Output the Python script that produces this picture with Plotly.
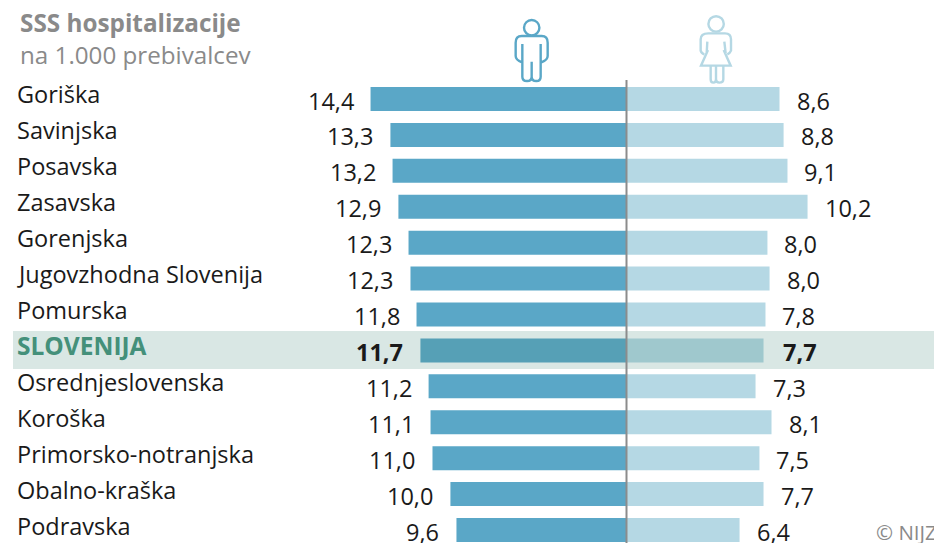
import plotly.graph_objects as go

regions = ["Goriška", "Savinjska", "Posavska", "Zasavska", "Gorenjska", "Jugovzhodna Slovenija",
           "Pomurska", "SLOVENIJA", "Osrednjeslovenska", "Koroška", "Primorsko-notranjska",
           "Obalno-kraška", "Podravska"]
men_labels = ["14,4", "13,3", "13,2", "12,9", "12,3", "12,3", "11,8", "11,7", "11,2", "11,1", "11,0", "10,0", "9,6"]
women_labels = ["8,6", "8,8", "9,1", "10,2", "8,0", "8,0", "7,8", "7,7", "7,3", "8,1", "7,5", "7,7", "6,4"]
# bar lengths (slightly finer than the printed labels)
men = [14.42, 13.30, 13.18, 12.85, 12.28, 12.17, 11.83, 11.61, 11.15, 11.04, 10.93, 9.92, 9.58]
women = [8.62, 8.85, 9.07, 10.20, 7.94, 8.06, 7.83, 7.72, 7.27, 8.17, 7.49, 7.72, 6.37]

PAGE_W, PAGE_H, BODY = 942, 543, 8
W, H = PAGE_W - BODY, PAGE_H - BODY
ZERO_PX, PX_PER_UNIT = 626.5, 17.75
ROW0_PX, ROW_PX = 99.0, 35.92
HL = regions.index("SLOVENIJA")
FONT = "Open Sans"
MEN_C, WOMEN_C = "#5AA7C7", "#B5D8E4"
MEN_HL, WOMEN_HL = "#56A0B6", "#9FC8CD"
rows = list(range(len(regions)))


def px(x):
    return (x - BODY) / W


def py(y):
    return 1 - (y - BODY) / H


fig = go.Figure()
fig.add_bar(y=rows, x=[-v for v in men], orientation="h", width=24 / ROW_PX, hoverinfo="skip",
            marker=dict(color=[MEN_HL if i == HL else MEN_C for i in rows], line_width=0))
fig.add_bar(y=rows, x=women, orientation="h", width=24 / ROW_PX, hoverinfo="skip",
            marker=dict(color=[WOMEN_HL if i == HL else WOMEN_C for i in rows], line_width=0))

ann = []
for i in rows:
    hl = i == HL
    ann.append(dict(x=px(17), xref="paper", y=i, yref="y", yshift=5.5 - 0.08 * i,
                    text=f"<b>{regions[i]}</b>" if hl else regions[i],
                    xanchor="left", yanchor="middle", showarrow=False, xshift=-2,
                    font=dict(family=FONT, size=24.5 if hl else 23.5, color="#44907A" if hl else "#1a1a1a")))
    ann.append(dict(x=-men[i], y=i, xshift=-15, yshift=-1.5, text=f"<b>{men_labels[i]}</b>" if hl else men_labels[i],
                    xanchor="right", yanchor="middle", showarrow=False,
                    font=dict(family=FONT, size=23.5, color="#1a1a1a")))
    ann.append(dict(x=women[i], y=i, xshift=17 if hl else 15, yshift=-1.5,
                    text=f"<b>{women_labels[i]}</b>" if hl else women_labels[i],
                    xanchor="left", yanchor="middle", showarrow=False,
                    font=dict(family=FONT, size=23.5, color="#1a1a1a")))
ann.append(dict(x=px(18), xref="paper", y=py(22.5), yref="paper", text="<b>SSS hospitalizacije</b>", xanchor="left",
                yanchor="middle", showarrow=False, font=dict(family=FONT, size=24.3, color="#8a8a8a")))
ann.append(dict(x=px(18), xref="paper", y=py(54), yref="paper", text="na 1.000 prebivalcev", xanchor="left",
                yanchor="middle", showarrow=False, font=dict(family=FONT, size=24.2, color="#8a8a8a")))
ann.append(dict(x=px(939), xref="paper", y=py(532), yref="paper", text="© NIJZ", xanchor="right",
                yanchor="middle", showarrow=False, font=dict(family=FONT, size=20.5, color="#8a8a8a")))


def icon(segments, ox, oy):
    """Path given in 3x crop coordinates -> paper fractions."""
    out = []
    for seg in segments:
        cmd, pts = seg[0], seg[1:]
        coords = " ".join(f"{px(ox + a / 3):.5f},{py(oy + b / 3):.5f}" for a, b in pts)
        out.append(f"{cmd} {coords}")
    return " ".join(out)


man = [("M", (125, 108)), ("L", (185, 108)), ("Q", (203, 108), (203, 128)), ("L", (203, 168)), ("Q", (203, 180), (184, 187)),
       ("M", (125, 108)), ("Q", (107, 108), (107, 128)), ("L", (107, 168)), ("Q", (107, 180), (126, 187)),
       ("M", (127, 132)), ("L", (127, 230)), ("Q", (127, 243), (141, 243)), ("Q", (155, 243), (155, 230)), ("L", (155, 185)),
       ("M", (155, 230)), ("Q", (155, 243), (169, 243)), ("Q", (182, 243), (182, 230)), ("L", (182, 132))]
woman = [("M", (685, 100)), ("L", (735, 100)), ("Q", (753, 100), (753, 118)), ("L", (753, 152)), ("Q", (750, 160), (742, 163)),
         ("M", (685, 100)), ("Q", (662, 100), (662, 118)), ("L", (662, 152)), ("Q", (664, 160), (673, 163)),
         ("M", (682, 125)), ("L", (680, 160)), ("M", (733, 125)), ("L", (737, 160)),
         ("M", (684, 150)), ("L", (663, 197)), ("L", (752, 197)), ("L", (731, 150)),
         ("M", (692, 197)), ("L", (692, 238)), ("Q", (692, 248), (700, 248)), ("Q", (708, 248), (708, 238)), ("L", (708, 197)),
         ("M", (708, 238)), ("Q", (708, 248), (718, 248)), ("Q", (730, 248), (730, 238)), ("L", (730, 197))]

shapes = [
    dict(type="rect", xref="paper", yref="paper", x0=px(13), x1=px(935), y0=py(331), y1=py(369),
         fillcolor="#D9E7E4", line_width=0, layer="below"),
    dict(type="line", xref="paper", yref="paper", x0=px(626.5), x1=px(626.5), y0=py(80), y1=py(543),
         line=dict(color="#8C8C8C", width=2), layer="above"),
    dict(type="path", xref="paper", yref="paper", path=icon(man, 480, 0), line=dict(color=MEN_C, width=2.4)),
    dict(type="circle", xref="paper", yref="paper", x0=px(524), x1=px(539.4), y0=py(35.4), y1=py(20),
         line=dict(color=MEN_C, width=2.4)),
    dict(type="path", xref="paper", yref="paper", path=icon(woman, 480, 0), line=dict(color=WOMEN_C, width=2.4)),
    dict(type="circle", xref="paper", yref="paper", x0=px(708.4), x1=px(723.8), y0=py(31.6), y1=py(16.2),
         line=dict(color=WOMEN_C, width=2.4)),
]

fig.update_layout(
    width=W, height=H, margin=dict(l=0, r=0, t=0, b=0), autosize=False,
    paper_bgcolor="white", plot_bgcolor="rgba(0,0,0,0)", showlegend=False, barmode="overlay",
    xaxis=dict(range=[-(ZERO_PX - BODY) / PX_PER_UNIT, (PAGE_W - ZERO_PX) / PX_PER_UNIT], visible=False, fixedrange=True),
    yaxis=dict(range=[(PAGE_H - ROW0_PX) / ROW_PX, -(ROW0_PX - BODY) / ROW_PX], visible=False, fixedrange=True),
    annotations=ann, shapes=shapes,
)
fig.write_html("out.html", config=dict(displayModeBar=False))
